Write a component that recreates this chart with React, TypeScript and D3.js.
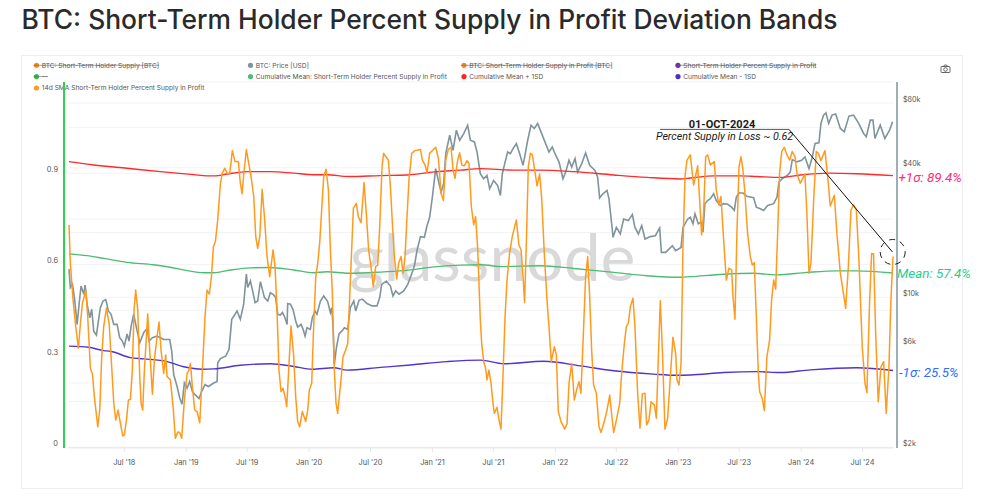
import React from "react";
import * as d3 from "d3";

// time values are years since 1 Jan 2018
const supplyYears = [.046,.057,.079,.101,.122,.139,.155,.182,.198,.220,.236,.252,.280,.296,.312,.328,.350,.372,.393,.410,.426,.445,.464,.483,.496,.513,.529,.545,.561,.575,.588,.605,.621,.632,.645,.659,.686,.702,.724,.740,.762,.778,.794,.816,.832,.843,.870,.892,.911,.930,.946,.962,.984,1.006,1.022,1.033,1.049,1.068,1.087,1.109,1.128,1.152,1.168,1.187,1.204,1.220,1.236,1.255,1.277,1.293,1.312,1.331,1.353,1.374,1.396,1.423,1.439,1.453,1.466,1.488,1.507,1.526,1.548,1.564,1.580,1.597,1.616,1.635,1.656,1.678,
1.705,1.721,1.737,1.753,1.770,1.786,1.802,1.816,1.832,1.851,1.873,1.889,1.905,1.921,1.943,1.970,1.987,2.000,2.019,2.035,2.052,2.068,2.084,2.100,2.117,2.136,2.155,2.171,2.187,2.203,2.217,2.230,2.252,2.274,2.295,2.312,2.328,2.344,2.358,2.382,2.398,2.420,2.445,2.463,2.482,2.501,2.520,2.539,2.556,2.572,2.591,2.604,2.623,2.642,2.659,2.675,2.691,2.710,2.726,2.745,2.762,2.778,2.794,2.810,2.832,2.859,2.903,2.919,2.940,2.957,2.978,3.027,3.049,3.071,3.090,3.109,3.130,3.152,3.168,3.184,3.206,3.222,3.239,3.260,3.282,3.298,3.317,3.336,3.352,3.369,3.390,
3.401,3.417,3.433,3.444,3.460,3.477,3.493,3.504,3.526,3.542,3.558,3.574,3.591,3.607,3.628,3.650,3.683,3.704,3.721,3.737,3.750,3.764,3.780,3.797,3.813,3.834,3.851,3.872,3.889,3.910,3.932,3.948,3.967,3.992,4.008,4.024,4.046,4.076,4.095,4.111,4.133,4.154,4.176,4.192,4.208,4.230,4.246,4.263,4.279,4.295,4.311,4.333,4.355,4.371,4.398,4.420,4.442,4.455,4.474,4.496,4.523,4.539,4.561,4.577,4.593,4.610,4.631,4.647,4.669,4.688,4.707,4.729,4.742,4.761,4.778,4.805,4.821,4.843,4.853,4.870,4.891,4.913,4.935,4.956,4.978,4.989,5.005,5.022,5.038,5.054,5.070,5.097,
5.124,5.157,5.173,5.189,5.205,5.222,5.238,5.260,5.292,5.308,5.330,5.346,5.368,5.390,5.411,5.433,5.444,5.460,5.476,5.493,5.509,5.525,5.541,5.563,5.585,5.601,5.617,5.634,5.650,5.661,5.682,5.699,5.720,5.742,5.758,5.775,5.791,5.807,5.823,5.840,5.861,5.883,5.905,5.926,5.948,5.964,5.991,6.029,6.046,6.062,6.078,6.100,6.121,6.138,6.159,6.192,6.214,6.235,6.268,6.289,6.317,6.338,6.360,6.382,6.403,6.425,6.447,6.468,6.495,6.517,6.533,6.555,6.571,6.587,6.604,6.625,6.647,6.669,6.690,6.712,6.728,6.745];
const supplyValues = [.718,.592,.471,.384,.313,.395,.460,.504,.417,.247,.230,.154,.055,.110,.285,.384,.444,.395,.252,.132,.077,.110,.066,.025,.028,.077,.143,.145,.241,.439,.504,.439,.220,.132,.110,.241,.425,.307,.162,.274,.351,.399,.307,.230,.291,.220,.209,.121,.017,.038,.036,.017,.143,.230,.241,.263,.187,.110,.105,.068,.220,.417,.504,.491,.548,.647,.663,.734,.855,.888,.904,.888,.888,.962,.926,.926,.855,.820,.882,.966,.920,.877,.811,.680,.641,.680,.835,.745,.614,.548,
.636,.581,.439,.241,.170,.181,.154,.121,.241,.386,.285,.154,.072,.055,.105,.072,.110,.176,.198,.384,.548,.592,.658,.767,.877,.901,.833,.636,.493,.241,.132,.099,.187,.285,.307,.329,.482,.636,.773,.789,.745,.725,.857,.756,.636,.581,.515,.581,.586,.712,.909,.953,.942,.931,.844,.723,.614,.540,.592,.614,.559,.614,.745,.866,.953,.962,.966,.931,.915,.890,.953,.973,.937,.822,.798,.931,.966,.973,.899,.871,.931,.955,.915,.912,.929,.920,.778,.718,.745,.636,.406,
.329,.269,.247,.209,.241,.198,.132,.099,.119,.077,.047,.220,.417,.537,.625,.680,.734,.652,.636,.548,.463,.658,.909,.953,.948,.893,.846,.885,.805,.625,.471,.384,.269,.318,.291,.105,.072,.047,.066,.198,.263,.143,.181,.203,.165,.384,.548,.614,.482,.307,.192,.165,.055,.036,.072,.110,.159,.105,.036,.077,.132,.230,.329,.384,.395,.450,.477,.384,.165,.050,.163,.165,.061,.077,.137,.126,.083,.351,.469,.307,.047,.083,.220,.349,.296,.209,.192,.263,.658,.877,.931,.948,
.849,.912,.800,.685,.756,.942,.948,.915,.926,.833,.784,.811,.669,.537,.576,.570,.482,.408,.690,.909,.942,.899,.822,.690,.614,.586,.594,.417,.231,.170,.148,.108,.285,.340,.471,.537,.507,.690,.888,.959,.973,.948,.931,.959,.942,.888,.855,.885,.745,.559,.592,.800,.959,.953,.929,.962,.877,.780,.815,.690,.559,.504,.444,.581,.767,.784,.767,.603,.318,.198,.167,.471,.623,.623,.362,.137,.252,.269,.099,.252,.471,.614];

const priceYears = [.046,.057,.074,.090,.112,.128,.144,.166,.177,.193,.215,.231,.247,.269,.285,.301,.323,.345,.366,.388,.410,.437,.458,.480,.496,.518,.534,.551,.572,.594,.621,.654,.681,.697,.724,.762,.789,.816,.865,.881,.897,.925,.946,.965,.984,1.006,1.027,1.049,1.071,1.103,1.125,1.152,1.179,1.223,1.250,1.255,1.277,1.320,1.347,1.369,1.396,1.412,1.439,1.466,1.488,1.499,1.521,1.542,1.559,1.580,1.602,1.635,1.662,1.683,
1.710,1.726,1.743,1.764,1.781,1.802,1.819,1.824,1.846,1.867,1.889,1.905,1.932,1.949,1.965,1.981,2.008,2.024,2.046,2.062,2.090,2.117,2.149,2.171,2.182,2.192,2.203,2.220,2.241,2.263,2.285,2.312,2.333,2.361,2.377,2.404,2.431,2.469,2.510,2.550,2.572,2.588,2.626,2.659,2.680,2.702,2.729,2.767,2.800,2.832,2.854,2.875,2.903,2.935,2.957,2.978,3.000,3.027,3.049,3.071,3.092,3.109,3.141,3.168,3.195,3.222,3.255,3.287,3.309,3.342,3.363,3.390,
3.417,3.444,3.466,3.498,3.531,3.553,3.569,3.585,3.612,3.634,3.656,3.683,3.710,3.737,3.753,3.775,3.802,3.829,3.856,3.883,3.921,3.948,3.975,3.997,4.030,4.062,4.084,4.111,4.133,4.160,4.181,4.214,4.246,4.279,4.322,4.344,4.360,4.387,4.420,4.436,4.458,4.469,4.496,4.528,4.555,4.593,4.626,4.647,4.675,4.702,4.729,4.772,4.813,4.848,4.862,4.897,4.951,4.978,5.022,5.038,5.076,5.097,
5.119,5.135,5.162,5.184,5.200,5.216,5.238,5.260,5.287,5.308,5.341,5.368,5.401,5.433,5.455,5.471,5.493,5.525,5.558,5.612,5.634,5.666,5.693,5.726,5.775,5.802,5.818,5.845,5.888,5.910,5.926,5.964,6.002,6.029,6.062,6.089,6.111,6.143,6.159,6.181,6.200,6.222,6.249,6.279,6.317,6.349,6.387,6.425,6.466,6.506,6.528,6.560,6.582,6.598,6.641,6.679,6.717,6.742];
const priceValues = [12950,10640,11000,9550,7170,8900,10800,9900,10930,8900,7700,8430,6670,6400,7440,8570,9210,9350,8280,7990,7170,7170,6220,6000,5680,6480,6000,7040,7990,6920,5890,6580,6860,6000,6220,6330,6220,6100,6100,5390,4190,3690,3260,3050,3830,3630,3890,3500,3380,3240,3500,3760,3690,3830,3890,4740,4970,5100,5490,7570,7990,8280,7570,8900,12300,10640,11410,10070,9050,9210,11330,9550,9210,10070,
9830,9550,7990,7930,8140,7700,7170,8960,8900,8430,7440,6970,7170,6800,6330,6920,6800,7700,8280,7990,9210,9720,9150,8140,8570,7170,4660,5580,6480,6670,6920,6800,8570,9210,8280,9280,9400,8960,8740,8740,9550,11000,11410,10800,9720,10260,9900,10260,11000,12300,13420,15770,18340,18210,20650,22560,27950,37940,33460,29520,32290,44560,54270,46200,57260,51440,55250,60400,51440,50530,45380,35950,
34070,35300,30600,33460,31700,28490,35950,39330,45380,44560,47030,49600,44560,39330,43760,51440,60400,58300,61500,56260,49600,45380,47890,44560,40740,34070,36610,41500,38600,42260,36610,40020,44900,39330,37270,34690,27770,29000,30060,27470,21000,18210,20250,18870,22160,21780,23250,20250,18870,20650,17870,18340,18530,20130,15490,15490,16640,15770,16340,20250,22160,22560,
21040,23400,21040,21410,19230,26090,26990,27510,29020,26990,25610,26090,25920,25150,24280,28000,29240,29240,28220,27810,25150,24700,24280,25610,26090,28000,32910,34110,35360,36630,41830,40820,41550,43030,37980,43030,49670,50050,61590,67340,69080,61590,67340,68090,58370,56330,66640,67340,61590,55330,53390,63830,63830,52430,60490,52430,57340,62720];

const upperYears = [.046,.247,.518,.789,1.060,1.168,1.236,1.331,1.494,1.683,1.873,2.035,2.144,2.320,2.577,2.794,3.038,3.228,3.390,3.661,3.878,4.149,4.474,4.745,5.016,5.097,5.287,5.504,5.639,5.829,5.991,6.235,6.452,6.745];
const upperValues = [.926,.915,.904,.893,.883,.879,.879,.885,.893,.893,.888,.883,.883,.877,.880,.882,.893,.898,.903,.898,.898,.893,.882,.874,.869,.872,.879,.879,.877,.874,.882,.888,.886,.880];
const meanYears = [.046,.193,.328,.518,.735,.870,1.006,1.141,1.223,1.358,1.521,1.683,1.873,2.035,2.144,2.320,2.577,2.767,3.038,3.228,3.390,3.580,3.878,4.149,4.474,4.745,5.016,5.097,5.368,5.612,5.802,6.046,6.289,6.452,6.745];
const meanValues = [.623,.617,.608,.595,.587,.579,.568,.561,.561,.570,.577,.578,.570,.561,.564,.559,.563,.568,.581,.586,.587,.581,.584,.575,.562,.551,.546,.548,.556,.559,.554,.562,.567,.567,.560];
const lowerYears = [.046,.206,.328,.383,.545,.654,.843,.979,1.128,1.223,1.439,1.683,1.873,2.022,2.198,2.306,2.577,2.821,3.119,3.390,3.580,3.905,4.203,4.474,4.799,4.989,5.097,5.368,5.639,5.829,6.073,6.452,6.745];
const lowerValues = [.320,.316,.305,.303,.282,.278,.269,.252,.244,.245,.257,.262,.253,.244,.249,.241,.250,.258,.269,.274,.262,.270,.255,.239,.228,.224,.225,.233,.236,.233,.242,.249,.240];

const leftGrid = [0,.15,.3,.45,.6,.75,.9,1.05,1.2];
const leftTicks = [0,.3,.6,.9];
const rightGrid = [80000,40000,20000,10000,6000,4000];
const rightTicks = [80000,40000,10000,6000,2000];

const legendItems = [
  { label: "BTC: Short-Term Holder Supply [BTC]", color: "#f28c28", col: 0, row: 0, off: 159 },
  { label: "BTC: Price [USD]", color: "#7f949c", col: 1, row: 0 },
  { label: "BTC: Short-Term Holder Supply in Profit [BTC]", color: "#f28c28", col: 2, row: 0, off: 612 },
  { label: "Short-Term Holder Percent Supply in Profit", color: "#6b2fa0", col: 3, row: 0, off: 816 },
  { label: "--", color: "#1fc93a", col: 0, row: 1, off: 48 },
  { label: "Cumulative Mean: Short-Term Holder Percent Supply in Profit", color: "#4dbd74", col: 1, row: 1 },
  { label: "Cumulative Mean + 1SD", color: "#ff2020", col: 2, row: 1 },
  { label: "Cumulative Mean - 1SD", color: "#4a2bd0", col: 3, row: 1 },
  { label: "14d SMA Short-Term Holder Percent Supply in Profit", color: "#ff9a1f", col: 0, row: 2 },
];
const legendCols = [36.5, 250.5, 464, 678];
const legendRows = [65.3, 76.6, 88];

const toDate = (t: number) => new Date(Date.UTC(2018, 0, 1) + t * 365.25 * 864e5);
const x = d3.scaleUtc().domain([toDate(0.046), toDate(6.745)]).range([69, 893]);
const y = d3.scaleLinear().domain([0, 0.9]).range([443.5, 169.5]);
const yPrice = d3.scaleLog().domain([2000, 80000]).range([443.7, 99]);

const series = (ts: number[], vs: number[], sc: (v: number) => number, curve: d3.CurveFactory = d3.curveLinear) =>
  d3.line<number>().x((t) => x(toDate(t))).y((_, i) => sc(vs[i])).curve(curve)(ts) as string;

const ticks = d3.utcMonth.every(6)!.range(new Date(Date.UTC(2018, 5, 1)), new Date(Date.UTC(2024, 8, 1)));
const fmtTick = d3.utcFormat("%b '%y");
const fmtPrice = (v: number) => `$${v / 1000}k`;
const sans = "Inter, 'Noto Sans', sans-serif";
const labelFill = "#555";

export default function App() {
  return (
    <svg width={984} height={500} style={{ position: "absolute", left: 0, top: 0, background: "#fff" }} fontFamily={sans}>
      <text x={21.5} y={29} fontSize={26.4} fontWeight={500} fill="#2a2a2a">BTC: Short-Term Holder Percent Supply in Profit Deviation Bands</text>
      <rect x={21.5} y={55.5} width={941} height={433} fill="#fff" stroke="#eeeeee" />

      {leftGrid.map((v) => <line key={v} x1={68} x2={893} y1={y(v) + 3.8} y2={y(v) + 3.8} stroke="#f3f3f3" strokeWidth={1} />)}
      {rightGrid.map((v) => <line key={v} x1={68} x2={893} y1={yPrice(v) + 4} y2={yPrice(v) + 4} stroke="#f3f3f3" strokeWidth={1} />)}

      <text x={492.5} y={281} textAnchor="middle" fontFamily="Lato, sans-serif" fontSize={66} fill="#d9d9d9">glassnode</text>

      {legendItems.map((d) => {
        const cx = legendCols[d.col];
        const cy = legendRows[d.row];
        return (
          <g key={d.label}>
            <circle cx={cx} cy={cy} r={2.6} fill={d.color} />
            <text x={cx + 5.3} y={cy + 2.4} fontSize={6.6} fill="#555">{d.label}</text>
            {d.off ? <line x1={cx - 3} x2={d.off} y1={cy} y2={cy} stroke="#666" strokeWidth={0.6} /> : null}
          </g>
        );
      })}

      <line x1={64} x2={64} y1={82} y2={448} stroke="#2fd04f" strokeWidth={2} />
      <line x1={897} x2={897} y1={82} y2={448} stroke="#7f949c" strokeWidth={1.5} />
      <line x1={68} x2={893} y1={447.7} y2={447.7} stroke="#eaeaea" strokeWidth={1.5} />

      {ticks.map((d) => (
        <g key={+d}>
          <line x1={x(d)} x2={x(d)} y1={448} y2={452} stroke="#e6e6e6" />
          <text x={x(d)} y={465.2} textAnchor="middle" fontSize={7.4} fill={labelFill}>{fmtTick(d)}</text>
        </g>
      ))}
      {leftTicks.map((v) => <text key={v} x={58} y={y(v) + 2.6} textAnchor="end" fontSize={7.4} fill={labelFill}>{v}</text>)}
      {rightTicks.map((v) => <text key={v} x={903} y={yPrice(v) + 2.6} fontSize={7.2} fill={labelFill}>{fmtPrice(v)}</text>)}

      <path d={series(priceYears, priceValues, yPrice)} fill="none" stroke="#7f949c" strokeWidth={1.6} />
      <path d={series(meanYears, meanValues, y, d3.curveMonotoneX)} fill="none" stroke="#4dbd74" strokeWidth={1.4} />
      <path d={series(upperYears, upperValues, y, d3.curveMonotoneX)} fill="none" stroke="#ff2a2a" strokeWidth={1.4} />
      <path d={series(lowerYears, lowerValues, y, d3.curveMonotoneX)} fill="none" stroke="#5331d4" strokeWidth={1.4} />
      <path d={series(supplyYears, supplyValues, y)} fill="none" stroke="#ff9a1f" strokeWidth={1.5} strokeLinejoin="round" />

      <text x={722} y={127.6} textAnchor="middle" fontFamily="Roboto, sans-serif" fontWeight={700} fontSize={11} fill="#1a1a1a">01-OCT-2024</text>
      <line x1={660} x2={789} y1={129.4} y2={129.4} stroke="#555" strokeWidth={1} />
      <text x={724.5} y={139.5} textAnchor="middle" fontFamily="Roboto, sans-serif" fontStyle="italic" fontSize={10.7} fill="#1a1a1a">Percent Supply in Loss ~ 0.62</text>
      <line x1={789} y1={129.4} x2={892.5} y2={252} stroke="#111" strokeWidth={1} />
      <circle cx={892.7} cy={252} r={12.5} fill="none" stroke="#222" strokeWidth={1} strokeDasharray="6 5" />

      <text x={898.5} y={181.5} fontFamily="Roboto, sans-serif" fontStyle="italic" fontSize={13.4} fill="#ff2d6f">+1σ: 89.4%</text>
      <text x={897} y={277.5} fontFamily="Roboto, sans-serif" fontStyle="italic" fontSize={13.4} fill="#1fcf8f">Mean: 57.4%</text>
      <text x={899} y={376.5} fontFamily="Roboto, sans-serif" fontStyle="italic" fontSize={13.4} fill="#2f6bff">-1σ: 25.5%</text>

      <g fill="none" stroke="#555" strokeWidth={0.9}>
        <rect x={941} y={66.5} width={9} height={6} rx={0.8} />
        <path d="M943.5 66.5 L944.5 65 H946.5 L947.5 66.5" />
        <circle cx={945.5} cy={69.5} r={1.8} />
      </g>
    </svg>
  );
}
